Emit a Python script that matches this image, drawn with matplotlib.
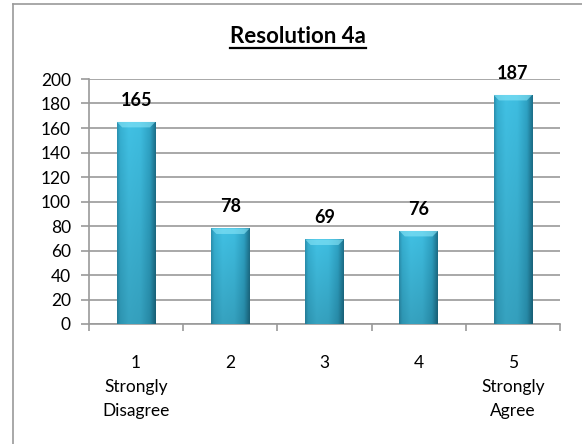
import numpy as np
import matplotlib
matplotlib.use("Agg")
import matplotlib.pyplot as plt
from matplotlib.lines import Line2D
from matplotlib.colors import to_rgb

categories = ["1\nStrongly\nDisagree", "2", "3", "4", "5\nStrongly\nAgree"]
values = [165, 78, 69, 76, 187]
yticks = [0, 20, 40, 60, 80, 100, 120, 140, 160, 180, 200]
title = "Resolution 4a"

plt.rcParams['font.family'] = ['Lato', 'DejaVu Sans']

W, H = 582, 444
fig = plt.figure(figsize=(W / 100, H / 100), dpi=100)
ax = fig.add_axes([89 / W, 1 - 324 / H, (560 - 89) / W, (324 - 79) / H])

x = np.arange(len(values))
bars = ax.bar(x, values, width=0.41, color="#36b4d6", edgecolor="none", zorder=3)

# horizontal colour profile across a bar
stops = np.array([0.0, 0.08, 0.3, 0.6, 0.85, 1.0])
cols = np.array([to_rgb(c) for c in
                 ["#2a8fae", "#36b0d2", "#41c1e4", "#3ebde0", "#2ea2c4", "#1c6e88"]])
xs = np.linspace(0, 1, 128)
prof = np.stack([np.interp(xs, stops, cols[:, k]) for k in range(3)], axis=-1)

for b in bars:
    x0, y0 = b.get_x(), b.get_y()
    w, h = b.get_width(), b.get_height()
    ys = np.linspace(1.0, 0.84, 128)[:, None, None]  # top -> bottom darkening
    img = np.clip(prof[None, :, :] * ys, 0, 1)
    im = ax.imshow(img, aspect="auto", extent=[x0, x0 + w, y0, y0 + h],
                   zorder=4, interpolation="bicubic")
    im.set_clip_path(b)
    # bevel at top
    ax.fill([x0, x0 + w, x0 + w * 0.86, x0 + w * 0.14],
            [y0 + h, y0 + h, y0 + h - 4.5, y0 + h - 4.5],
            color="#8ae6f8", alpha=0.6, zorder=5, lw=0)

for xi, v in zip(x, values):
    ax.annotate(str(v), (xi, v), xytext=(0, 15.5), textcoords="offset points",
                ha="center", va="center", fontsize=13, fontweight="bold",
                annotation_clip=False)

ax.set_xlim(-0.5, len(values) - 0.5)
ax.set_ylim(0, 200)
ax.set_yticks(yticks)
ax.set_yticklabels([str(t) for t in yticks], fontsize=12.5)
ax.yaxis.grid(True, color="#9a9a9a", lw=1.2, zorder=0)
ax.set_axisbelow(True)

ax.set_xticks(x)
ax.set_xticklabels(categories, fontsize=12.5, linespacing=1.65)
ax.tick_params(axis="x", length=0, pad=22)
ax.set_xticks(np.arange(len(values) + 1) - 0.5, minor=True)
ax.tick_params(axis="x", which="minor", length=5, width=1.2, color="#9a9a9a",
               direction="out")
ax.tick_params(axis="y", length=6, width=1.2, color="#9a9a9a", direction="out", pad=7)

for s in ["top", "right"]:
    ax.spines[s].set_visible(False)
for s in ["left", "bottom"]:
    ax.spines[s].set_color("#9a9a9a")
    ax.spines[s].set_linewidth(1.2)

# outer frame (left and top only visible)
fig.add_artist(Line2D([13 / W, 13 / W], [0, 1 - 4.5 / H], transform=fig.transFigure,
                      color="#9a9a9a", lw=1.2))
fig.add_artist(Line2D([13 / W, 1], [1 - 4.5 / H, 1 - 4.5 / H], transform=fig.transFigure,
                      color="#9a9a9a", lw=1.2))

t = fig.text(298 / W, 1 - 36 / H, title, ha="center", va="center",
             fontsize=16, fontweight="bold")
fig.canvas.draw()
bb = t.get_window_extent(fig.canvas.get_renderer())
uy = H - 48
fig.add_artist(Line2D([bb.x0 / W, bb.x1 / W], [uy / H, uy / H], transform=fig.transFigure,
                      color="black", lw=1.6))

fig.savefig("out.png", dpi=100)
